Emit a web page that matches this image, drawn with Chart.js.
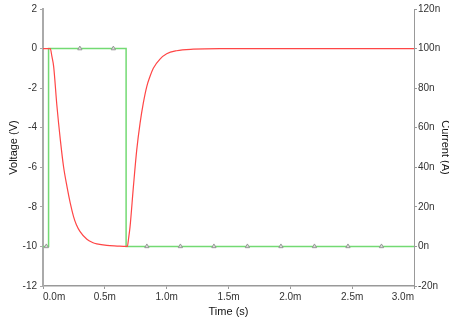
<!DOCTYPE html>
<html>
<head>
<meta charset="utf-8">
<script src="https://cdn.jsdelivr.net/npm/chart.js@4"></script>
<style>
  html, body { margin: 0; padding: 0; background: #fff; }
  canvas { display: block; }
</style>
</head>
<body>
<canvas id="chart" width="449" height="321"></canvas>
<script>
// time in ms, voltage in V
const voltTime = [0, 0.059, 0.072, 0.086, 0.113, 0.14, 0.166, 0.194, 0.22, 0.247, 0.27, 0.30, 0.355, 0.40, 0.435, 0.516, 0.60, 0.672, 0.682, 0.692, 0.704, 0.731, 0.758, 0.785, 0.811, 0.839, 0.865, 0.892, 0.946, 1.0, 1.08, 1.215, 1.43, 3.0];
const voltage = [0, 0, -0.4, -0.9, -2.93, -4.6, -5.96, -6.98, -7.8, -8.49, -8.9, -9.25, -9.64, -9.8, -9.87, -9.95, -9.98, -10, -10, -9.6, -9.0, -6.98, -5.12, -3.77, -2.76, -1.92, -1.41, -0.99, -0.53, -0.26, -0.11, -0.03, 0, 0];

// current in nA
const currTime = [0, 0.045, 0.045, 0.672, 0.672, 3.0];
const current = [0, 0, 100, 100, 0, 0];

const markerTime = [0.027, 0.298, 0.569, 0.84, 1.111, 1.382, 1.653, 1.924, 2.195, 2.466, 2.737];
const markerCurrent = [0, 100, 100, 0, 0, 0, 0, 0, 0, 0, 0];

const xTicks = [0, 0.5, 1.0, 1.5, 2.0, 2.5, 3.0];

const FONT = "'Liberation Sans', Arial, sans-serif";
const tickFont = { family: FONT, size: 10 };
const titleFont = { family: FONT, size: 11 };

const toXY = (xs, ys) => xs.map((x, i) => ({ x: x, y: ys[i] }));

const ctx = document.getElementById("chart").getContext("2d");
new Chart(ctx, {
  type: "line",
  data: {
    datasets: [
      {
        data: toXY(voltTime, voltage),
        yAxisID: "yV",
        borderColor: "rgb(255,70,70)",
        borderWidth: 1.2,
        pointRadius: 0,
        cubicInterpolationMode: "monotone",
        order: 0
      },
      {
        data: toXY(currTime, current),
        yAxisID: "yI",
        borderColor: "rgb(115,218,115)",
        borderWidth: 1.5,
        pointRadius: 0,
        tension: 0,
        order: 1
      },
      {
        data: toXY(markerTime, markerCurrent),
        yAxisID: "yI",
        showLine: false,
        pointStyle: "triangle",
        pointRadius: 2.5,
        pointBorderWidth: 0.8,
        pointBorderColor: "#888",
        pointBackgroundColor: "#ddd",
        order: 0
      }
    ]
  },
  options: {
    responsive: false,
    animation: false,
    layout: { padding: { top: 9, left: 0, right: 0, bottom: 0 } },
    plugins: { legend: { display: false }, tooltip: { enabled: false } },
    scales: {
      x: {
        type: "linear",
        min: 0,
        max: 3,
        afterFit: s => { s.height = 35; },
        afterBuildTicks: s => { s.ticks = xTicks.map(v => ({ value: v })); },
        ticks: {
          align: "inner",
          padding: 2,
          color: "#333",
          font: tickFont,
          callback: v => v.toFixed(1) + "m"
        },
        grid: { drawOnChartArea: false, drawTicks: true, tickLength: 3, color: "#999" },
        border: { color: "#999", width: 1.5 },
        title: { display: true, text: "Time (s)", color: "#111", font: titleFont, padding: { top: 0, bottom: 2.7 } }
      },
      yV: {
        position: "left",
        min: -12,
        max: 2,
        afterFit: s => { s.width = 43; },
        ticks: { stepSize: 2, padding: 3, color: "#333", font: tickFont },
        grid: { drawOnChartArea: false, drawTicks: true, tickLength: 3, color: "#aaa" },
        border: { color: "#aaa", width: 2 },
        title: { display: true, text: "Voltage (V)", color: "#111", font: titleFont, padding: { top: 7.4, bottom: 0 } }
      },
      yI: {
        position: "right",
        min: -20,
        max: 120,
        afterFit: s => { s.width = 35; },
        ticks: { stepSize: 20, padding: 1, color: "#333", font: tickFont, callback: v => v + "n" },
        grid: { drawOnChartArea: false, drawTicks: true, tickLength: 3, color: "#999" },
        border: { color: "#999", width: 1 },
        title: { display: true, text: "Current (A)", color: "#111", font: titleFont, padding: { top: -2.6, bottom: 0 } }
      }
    }
  }
});
</script>
</body>
</html>
